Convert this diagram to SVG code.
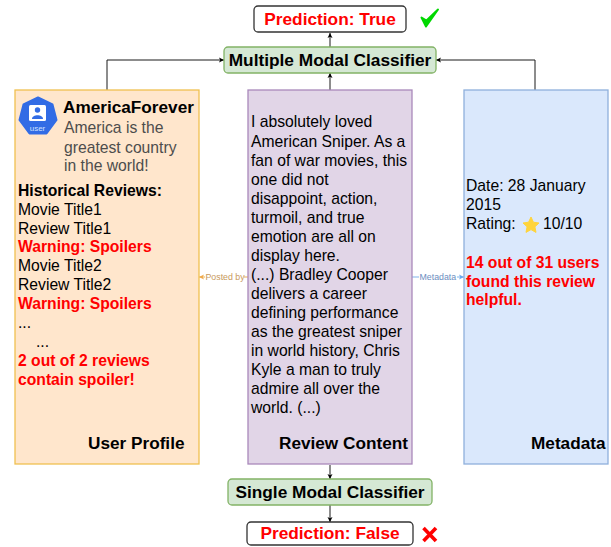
<svg xmlns="http://www.w3.org/2000/svg" width="611" height="547" viewBox="0 0 611 547">
<style>
text{font-family:"Liberation Sans",Arial,sans-serif;font-size:15.700px;fill:#000}
.b{font-weight:bold}
.r{font-weight:bold;fill:#ff0000}
.h{font-weight:bold;font-size:17.200px}
.t{font-weight:bold;font-size:17.300px;text-anchor:middle}
.pr{font-weight:bold;font-size:17.300px;fill:#ff0000;text-anchor:middle}
.g{fill:#4d4d4d}
.c{fill:none;stroke:#1a1a1a;stroke-width:1}
.clf{fill:#d5e8d4;stroke:#82b366;stroke-width:1.300}
.out{fill:#fff;stroke:#333;stroke-width:1.300}
</style>
<defs>
<marker id="a" markerWidth="6" markerHeight="6" refX="5" refY="3" orient="auto" markerUnits="userSpaceOnUse"><path d="M0 0.500L5 3L0 5.500L1.200 3Z" fill="#000"/></marker>
<marker id="o" markerWidth="6" markerHeight="6" refX="5" refY="3" orient="auto" markerUnits="userSpaceOnUse"><path d="M0 0.500L5 3L0 5.500L1.200 3Z" fill="#f0a94a"/></marker>
<marker id="u" markerWidth="6" markerHeight="6" refX="5" refY="3" orient="auto" markerUnits="userSpaceOnUse"><path d="M0 0.500L5 3L0 5.500L1.200 3Z" fill="#6aa9ee"/></marker>
</defs>
<g id="connectors">
<path class="c" marker-end="url(#a)" d="M107 90V60H224"/>
<path class="c" marker-end="url(#a)" d="M535 90V60H436"/>
<path class="c" marker-end="url(#a)" d="M330 90V73"/>
<path class="c" marker-end="url(#a)" d="M330 47V33"/>
<path class="c" marker-end="url(#a)" d="M330 465V479"/>
<path class="c" marker-end="url(#a)" d="M330 505V522"/>
<path fill="none" stroke="#f0c27a" stroke-width="1.300" marker-end="url(#o)" d="M205 277H199"/>
<path fill="none" stroke="#f0c27a" stroke-width="1.300" d="M244 277H248"/>
<path fill="none" stroke="#9cc4f0" stroke-width="1.300" d="M412 277H419"/>
<path fill="none" stroke="#9cc4f0" stroke-width="1.300" marker-end="url(#u)" d="M457 277H464"/>
<text x="205.500" y="280" style="font-size:8.800px;fill:#c8995c">Posted by</text>
<text x="419.500" y="280" style="font-size:8.800px;fill:#6c8ebf">Metadata</text>
</g>
<g id="prediction-true">
<rect class="out" x="254" y="6" width="152" height="26" rx="4"/>
<text class="pr" x="330" y="25">Prediction: True</text>
<path d="M421.500 17.500L426 26.500L438 9.500L426.500 20.500Z" fill="#00d800" stroke="#00d800" stroke-width="2" stroke-linejoin="round"/>
</g>
<g id="multiple-modal-classifier">
<rect class="clf" x="224" y="47" width="212" height="26" rx="4"/>
<text class="t" x="330" y="66">Multiple Modal Classifier</text>
</g>
<g id="user-profile">
<rect x="15" y="90" width="184" height="374" fill="#ffe6cc" stroke="#f0c050" stroke-width="1.300"/>
<path d="M38 97.500L52.500 104.500L56.500 120L46.500 133.500H29.500L19.500 120L23.500 104.500Z" fill="#326ce5" stroke="#326ce5" stroke-width="2" stroke-linejoin="round"/>
<rect x="29" y="105" width="17" height="16" rx="1.500" fill="#fff"/>
<circle cx="37.500" cy="110" r="2.700" fill="#326ce5"/>
<path d="M32 119C32 114 43 114 43 119Z" fill="#326ce5"/>
<text x="37.500" y="130.500" text-anchor="middle" style="font-size:8px;fill:#cfe0ff">user</text>
<text class="h" x="63" y="113">AmericaForever</text>
<text class="g" x="64" y="133">America is the</text>
<text class="g" x="64" y="152.500">greatest country</text>
<text class="g" x="64" y="171">in the world!</text>
<text class="b" x="18" y="196">Historical Reviews:</text>
<text x="18" y="215">Movie Title1</text>
<text x="18" y="234">Review Title1</text>
<text class="r" x="18" y="252">Warning: Spoilers</text>
<text x="18" y="271">Movie Title2</text>
<text x="18" y="290">Review Title2</text>
<text class="r" x="18" y="309">Warning: Spoilers</text>
<text x="18" y="328">...</text>
<text x="36" y="347">...</text>
<text class="r" x="18" y="366">2 out of 2 reviews</text>
<text class="r" x="18" y="385">contain spoiler!</text>
<text class="h" x="88" y="449">User Profile</text>
</g>
<g id="review-content">
<rect x="248" y="90" width="164" height="374" fill="#e1d5e7" stroke="#a989bb" stroke-width="1.300"/>
<text x="251" y="127">I absolutely loved</text>
<text x="251" y="147">American Sniper. As a</text>
<text x="251" y="166">fan of war movies, this</text>
<text x="251" y="185">one did not</text>
<text x="251" y="204">disappoint, action,</text>
<text x="251" y="223">turmoil, and true</text>
<text x="251" y="242">emotion are all on</text>
<text x="251" y="261">display here.</text>
<text x="251" y="280">(...) Bradley Cooper</text>
<text x="251" y="299">delivers a career</text>
<text x="251" y="318">defining performance</text>
<text x="251" y="337">as the greatest sniper</text>
<text x="251" y="356">in world history, Chris</text>
<text x="251" y="375">Kyle a man to truly</text>
<text x="251" y="394">admire all over the</text>
<text x="251" y="413">world. (...)</text>
<text class="h" x="279" y="449">Review Content</text>
</g>
<g id="metadata">
<rect x="464" y="90" width="144" height="374" fill="#dae8fc" stroke="#8fb0dc" stroke-width="1.300"/>
<text x="466" y="191">Date: 28 January</text>
<text x="466" y="210">2015</text>
<text x="466" y="229">Rating:</text>
<path d="M531 217L533.400 222.200L539 223L534.900 226.800L536 232.400L531 229.600L526 232.400L527.100 226.800L523 223L528.600 222.200Z" fill="#ffd43b" stroke="#ffd43b" stroke-linejoin="round"/>
<text x="543" y="229">10/10</text>
<text class="r" x="466" y="268">14 out of 31 users</text>
<text class="r" x="466" y="287">found this review</text>
<text class="r" x="466" y="305">helpful.</text>
<text class="h" x="531" y="449">Metadata</text>
</g>
<g id="single-modal-classifier">
<rect class="clf" x="228" y="479" width="204" height="26" rx="4"/>
<text class="t" x="330" y="498">Single Modal Classifier</text>
</g>
<g id="prediction-false">
<rect class="out" x="247" y="522" width="166" height="23" rx="4"/>
<text class="pr" x="330" y="539">Prediction: False</text>
<path d="M423.500 528L436 541M436 528L423.500 541" fill="none" stroke="#ff0000" stroke-width="3.600"/>
</g>
</svg>
